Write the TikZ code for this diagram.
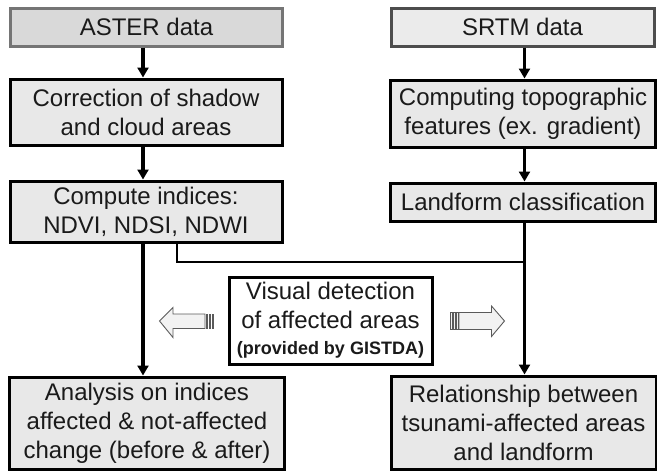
\documentclass[tikz,border=0pt]{standalone}
\usepackage{fontspec}
\setmainfont{Liberation Sans}
\usetikzlibrary{arrows.meta}
\definecolor{boxfill}{HTML}{E8E8E8}
\definecolor{asterfill}{HTML}{D9D9D9}
\definecolor{asterdraw}{HTML}{757575}
\definecolor{srtmfill}{HTML}{EBEBEB}
\definecolor{srtmdraw}{HTML}{4D4D4D}
\definecolor{txt}{HTML}{1A1A1A}
\definecolor{hollowfill}{HTML}{F2F2F2}
\definecolor{hollowdraw}{HTML}{5A5A5A}
\begin{document}
\begin{tikzpicture}[x=1pt,y=-1pt,
  box/.style={draw=black, line width=3pt, fill=boxfill, align=center, inner sep=0pt,
    font=\fontsize{24}{29}\selectfont, text=txt},
  conn/.style={line width=3.4pt, -{Triangle[length=10pt,width=11pt]}},
  plainline/.style={line width=2.8pt},
  hollow/.style={draw=hollowdraw, line width=0.9pt, fill=hollowfill, line join=miter}]
\useasboundingbox (0,0) rectangle (657,471);
% column coordinates
\coordinate (cL) at (143,0);
\coordinate (cM) at (177,0);
\coordinate (cR) at (524.5,0);
\coordinate (join) at (524.5,262);
% boxes
\node[box, fill=asterfill, draw=asterdraw, minimum width=272pt, minimum height=38pt] (aster) at (146.5,27) {ASTER data};
\node[box, minimum width=272pt, minimum height=66pt] (corr) at (146,112) {Correction of shadow\\and cloud areas};
\node[box, minimum width=272pt, minimum height=61pt] (comp) at (146,211.5) {Compute indices:\\NDVI, NDSI, NDWI};
\node[box, fill=srtmfill, draw=srtmdraw, minimum width=263pt, minimum height=38pt] (srtm) at (522.5,27) {SRTM data};
\node[box, minimum width=265pt, minimum height=67pt] (topo) at (523,113.5) {Computing topographic\\features (ex. gradient)};
\node[box, minimum width=265pt, minimum height=38pt] (land) at (523,202) {Landform classification};
\node[box, fill=white, minimum width=203pt, minimum height=87pt] (vis) at (330.5,320.5)
  {Visual detection\\of affected areas\\[-3pt]{\fontsize{18}{20}\selectfont\bfseries (provided by GISTDA)}};
\node[box, minimum width=275pt, minimum height=92pt] (anal) at (147,423) {Analysis on indices\\affected \& not-affected\\change (before \& after)};
\node[box, minimum width=265pt, minimum height=93pt] (rel) at (523.5,422.5) {Relationship between\\tsunami-affected areas\\and landform};
% connectors
\draw[conn] (aster.south -| cL) -- (corr.north -| cL);
\draw[conn] (corr.south -| cL) -- (comp.north -| cL);
\draw[conn] (comp.south -| cL) -- (anal.north -| cL);
\draw[conn] (srtm.south -| cR) -- (topo.north -| cR);
\draw[conn] (topo.south -| cR) -- (land.north -| cR);
\draw[conn] (land.south -| cR) -- (rel.north -| cR);
\draw[plainline] (comp.south -| cM) |- (join);
% hollow arrows
\draw[hollow] (159.5,321) -- (173,307.5) -- (173,314) -- (205,314) -- (205,328.5) -- (173,328.5) -- (173,337.5) -- cycle;
\draw[hollow] (206.3,314) rectangle (207.8,328.5);
\draw[hollow] (209.3,314) rectangle (210.8,328.5);
\draw[hollow] (212.3,314) rectangle (213.8,328.5);
\draw[hollow] (504.5,321) -- (491.5,306) -- (491.5,312.5) -- (459,312.5) -- (459,329.5) -- (491.5,329.5) -- (491.5,336.5) -- cycle;
\draw[hollow] (450.5,312.5) rectangle (452,329.5);
\draw[hollow] (453.5,312.5) rectangle (455,329.5);
\draw[hollow] (456.5,312.5) rectangle (458,329.5);
\end{tikzpicture}
\end{document}
